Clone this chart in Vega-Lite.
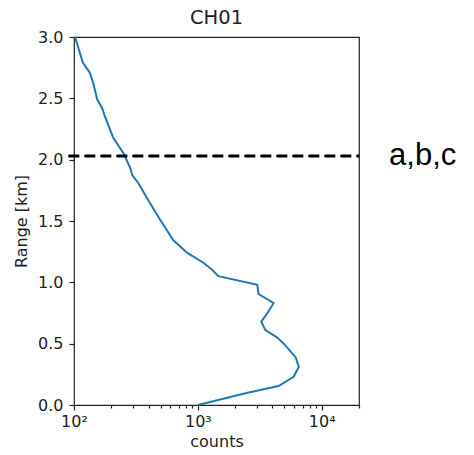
{
  "$schema": "https://vega.github.io/schema/vega-lite/v6.json",
  "autosize": "none",
  "width": 285,
  "height": 368,
  "padding": {"left": 74, "top": 37, "right": 115, "bottom": 50},
  "title": {"text": "CH01", "fontSize": 19.5, "font": "DejaVu Sans", "fontWeight": "normal", "color": "#222", "offset": 1},
  "config": {
    "view": {"stroke": "#222", "strokeWidth": 1.2},
    "axis": {"labelFont": "DejaVu Sans", "titleFont": "DejaVu Sans", "labelFontSize": 16, "titleFontSize": 16, "titleFontWeight": "normal", "labelColor": "#222", "titleColor": "#222", "tickColor": "#222", "tickWidth": 1.2, "domain": false, "grid": false}
  },
  "datasets": {
    "profile": [
      {"count": 1000, "range": 0.0},
      {"count": 2520, "range": 0.1},
      {"count": 4480, "range": 0.155},
      {"count": 5930, "range": 0.23},
      {"count": 6530, "range": 0.31},
      {"count": 6160, "range": 0.39},
      {"count": 4930, "range": 0.5},
      {"count": 4380, "range": 0.55},
      {"count": 3510, "range": 0.61},
      {"count": 3250, "range": 0.68},
      {"count": 3650, "range": 0.75},
      {"count": 4090, "range": 0.83},
      {"count": 3090, "range": 0.905},
      {"count": 3020, "range": 0.98},
      {"count": 1466, "range": 1.05},
      {"count": 1310, "range": 1.1},
      {"count": 1109, "range": 1.16},
      {"count": 822, "range": 1.24},
      {"count": 632, "range": 1.345},
      {"count": 496, "range": 1.51},
      {"count": 398, "range": 1.67},
      {"count": 330, "range": 1.81},
      {"count": 295, "range": 1.875},
      {"count": 285, "range": 1.93},
      {"count": 255, "range": 2.04},
      {"count": 207, "range": 2.18},
      {"count": 178, "range": 2.35},
      {"count": 169, "range": 2.42},
      {"count": 154, "range": 2.49},
      {"count": 143, "range": 2.625},
      {"count": 134, "range": 2.71},
      {"count": 118, "range": 2.79},
      {"count": 102, "range": 3.0}
    ],
    "marker": [{"x1": 90, "x2": 20000, "y": 2.03, "tx": 35000, "label": "a,b,c"}]
  },
  "layer": [
    {
      "data": {"name": "profile"},
      "mark": {"type": "line", "color": "#1f77b4", "strokeWidth": 2},
      "encoding": {
        "x": {"field": "count", "type": "quantitative", "scale": {"type": "log", "domain": [100, 20000], "nice": false},
              "axis": {"title": "counts", "values": [100, 200, 300, 400, 500, 600, 700, 800, 900, 1000, 2000, 3000, 4000, 5000, 6000, 7000, 8000, 9000, 10000, 20000],
                       "labelExpr": "datum.value == 100 ? '10²' : datum.value == 1000 ? '10³' : datum.value == 10000 ? '10⁴' : ''",
                       "tickSize": {"condition": {"test": "datum.value == 100 || datum.value == 1000 || datum.value == 10000", "value": 5}, "value": 3},
                       "labelPadding": 3, "titlePadding": 4, "labelFlush": false, "labelOverlap": false}},
        "y": {"field": "range", "type": "quantitative", "scale": {"domain": [0, 3], "nice": false, "zero": false},
              "axis": {"title": "Range [km]", "values": [0, 0.5, 1, 1.5, 2, 2.5, 3], "format": ".1f", "tickSize": 5, "labelPadding": 6, "titlePadding": 8}},
        "order": {"field": "range", "type": "quantitative"}
      }
    },
    {
      "data": {"name": "marker"},
      "mark": {"type": "rule", "color": "black", "strokeWidth": 3, "strokeDash": [11, 5]},
      "encoding": {
        "x": {"field": "x1", "type": "quantitative"},
        "x2": {"field": "x2"},
        "y": {"field": "y", "type": "quantitative"}
      }
    },
    {
      "data": {"name": "marker"},
      "mark": {"type": "text", "font": "Liberation Sans", "fontSize": 31, "align": "left", "baseline": "middle", "color": "black"},
      "encoding": {
        "x": {"field": "tx", "type": "quantitative"},
        "y": {"field": "y", "type": "quantitative"},
        "text": {"field": "label"}
      }
    }
  ]
}
